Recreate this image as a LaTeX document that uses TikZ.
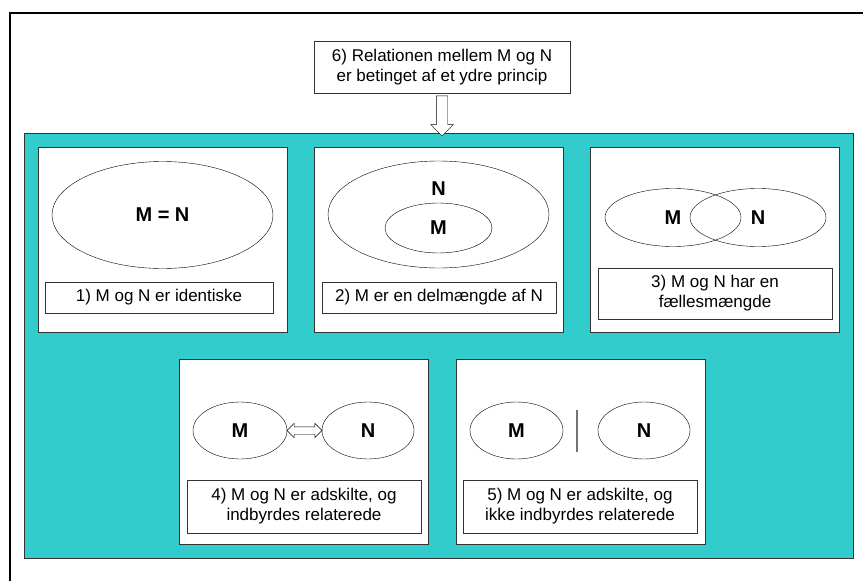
\documentclass[tikz,border=0pt]{standalone}
\usepackage{fontspec}
\setmainfont{Liberation Sans}
\usetikzlibrary{calc,shapes.geometric,shapes.arrows}
\definecolor{panelteal}{RGB}{51,204,204}
\tikzset{
  card/.style={draw=black!80, fill=white, inner sep=0pt, minimum width=249, minimum height=185},
  caption/.style={draw=black!80, fill=white, align=center, inner sep=0pt, font=\fontsize{17}{20}\selectfont},
  setname/.style={inner sep=0pt, font=\fontsize{20}{24}\selectfont\bfseries},
  mset/.style={setname, draw, ellipse},
}

\begin{document}
\begin{tikzpicture}[x=1pt, y=-1pt]
  \useasboundingbox (0,0) rectangle (863,581);
  \clip (0,0) rectangle (863,581);
  \draw[line width=1.8pt] (10,600) -- (10,13) -- (880,13);

  \node at (438.5,345.5) [draw=black!80, fill=panelteal, inner sep=0pt,
    minimum width=829, minimum height=425] (panel) {};

  \node at (442,67) [caption, minimum width=256, minimum height=52] (rel)
    {6) Relationen mellem M og N\\er betinget af et ydre princip};

  \node at ($ (rel.south)!0.5!(rel.south |- panel.north) $)
    [single arrow, draw, fill=white, rotate=-90, inner xsep=0pt, inner ysep=5.5pt,
     single arrow head extend=5.5pt, minimum height=40] (down) {};

  \foreach \cx / \cy / \num in {162.5/239.5/1, 438.5/239.5/2, 715/240/3, 304/452/4, 580.5/452/5} {
    \node at (\cx, \cy) [card] (card\num) {};
  }

  % 1) identical
  \node at (162.5,215) [mset, minimum width=221, minimum height=107] (mn1) {M = N};
  \node at (159,297.5) [caption, minimum width=228, minimum height=31] (cap1)
    {1) M og N er identiske};

  % 2) subset
  \node at (438.5,214.5) [mset, minimum width=221, minimum height=107] (n2) {};
  \node at (438.5,189) [setname] (n2text) {N};
  \node at (438.5,228) [mset, minimum width=107, minimum height=50] (m2) {M};
  \node at (439,297.5) [caption, minimum width=234, minimum height=31] (cap2)
    {2) M er en delmængde af N};

  % 3) intersection
  \node at (673,217.5) [mset, minimum width=136, minimum height=58] (m3) {M};
  \node at (758,217.5) [mset, minimum width=136, minimum height=58] (n3) {N};
  \node at (715,293.5) [caption, minimum width=234, minimum height=51] (cap3)
    {3) M og N har en\\fællesmængde};

  % 4) separate, related
  \node at (240,430.5) [mset, minimum width=94, minimum height=57] (m4) {M};
  \node at (368,430.5) [mset, minimum width=92, minimum height=57] (n4) {N};
  \node at ($ (m4.east)!0.5!(n4.west) $)
    [double arrow, draw, fill=white, inner xsep=0pt, inner ysep=3.5pt,
     double arrow head extend=3.5pt, minimum height=35] (link) {};
  \node at (304,506.5) [caption, minimum width=234, minimum height=53] (cap4)
    {4) M og N er adskilte, og\\indbyrdes relaterede};

  % 5) separate, unrelated
  \node at (516.5,430.5) [mset, minimum width=93, minimum height=57] (m5) {M};
  \node at (644,430.5) [mset, minimum width=92, minimum height=57] (n5) {N};
  \draw[black!55, line width=1.5pt] (577,410) -- (577,452);
  \node at (580,506.5) [caption, minimum width=234, minimum height=53] (cap5)
    {5) M og N er adskilte, og\\ikke indbyrdes relaterede};
\end{tikzpicture}
\end{document}
